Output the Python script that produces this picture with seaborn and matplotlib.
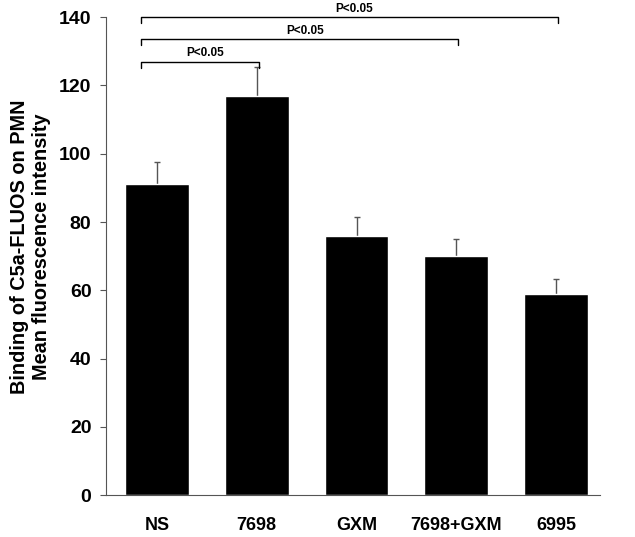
import numpy as np
import pandas as pd
import matplotlib
matplotlib.use('Agg')
import matplotlib.pyplot as plt
import seaborn as sns

groups = ['NS', '7698', 'GXM', '7698+GXM', '6995']
mfi = [91, 117, 76, 70, 59]
sem = [6.5, 8.3, 5.6, 5.1, 4.3]

# significance brackets: (first group, second group, label)
comparisons = [('NS', '7698', 'P<0.05'),
               ('NS', '7698+GXM', 'P<0.05'),
               ('NS', '6995', 'P<0.05')]

df = pd.DataFrame({'group': groups, 'mfi': mfi, 'sem': sem})

sns.set_style('ticks')
plt.rcParams['font.family'] = ['Liberation Sans', 'DejaVu Sans']

fig = plt.figure(figsize=(6.35, 5.37), dpi=100)
ax = fig.add_axes([0.167, 0.078, 0.778, 0.890])

sns.barplot(data=df, x='group', y='mfi', color='black', width=0.64,
            errorbar=None, saturation=1, ax=ax, zorder=2)

# upper half error bars only
xpos = np.arange(len(groups))
top = df['mfi'] + df['sem']
ax.vlines(xpos, df['mfi'], top, color='#555555', lw=1.0, zorder=1)
ax.hlines(top, xpos - 0.03, xpos + 0.03, color='#555555', lw=1.0, zorder=1)

ax.set_ylim(0, 140)
ax.set_xlim(-0.51, 4.44)
ax.set_yticks(range(0, 141, 20))
ax.tick_params(axis='y', labelsize=14, length=4.5, width=0.8,
               color='#555555', labelcolor='black', pad=6)
ax.tick_params(axis='x', length=0, labelsize=13, labelcolor='black', pad=16)
for lab in ax.get_yticklabels() + ax.get_xticklabels():
    lab.set_fontweight('bold')

ax.set_xlabel('')
ax.set_ylabel('Binding of C5a-FLUOS on PMN\nMean fluorescence intensity',
              fontsize=14.3, fontweight='bold', color='black')
ax.yaxis.set_label_coords(-0.112, 0.52)

sns.despine(ax=ax)
for side in ['left', 'bottom']:
    ax.spines[side].set_color('#555555')
    ax.spines[side].set_linewidth(0.8)

# brackets
levels = [127, 133.6, 140]
for (g1, g2, txt), yb in zip(comparisons, levels):
    x1 = groups.index(g1) - 0.16
    x2 = groups.index(g2) + 0.02
    ax.plot([x1, x1, x2, x2], [yb - 1.8, yb, yb, yb - 1.8], color='black',
            lw=1.0, clip_on=False)
    ax.text((x1 + x2) / 2 + 0.05, yb + 0.7, txt, ha='center', va='bottom',
            fontsize=8.5, fontweight='bold', color='black', clip_on=False)

fig.savefig('out.png', dpi=100)
